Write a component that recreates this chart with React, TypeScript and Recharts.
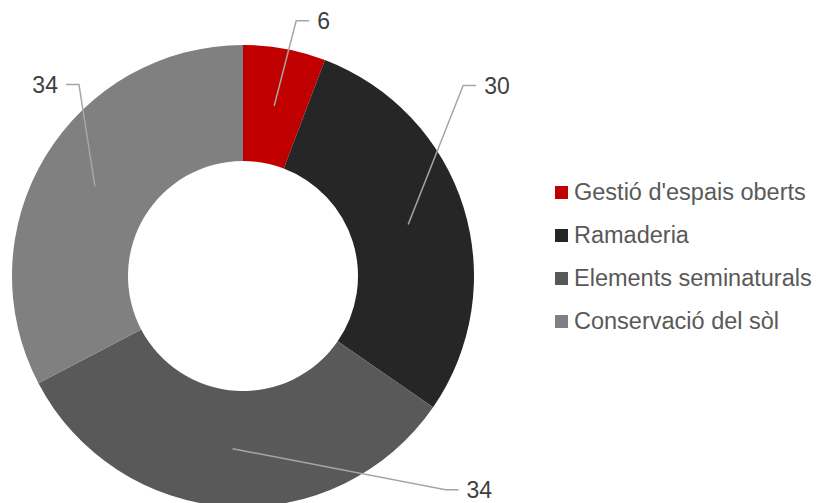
import React from 'react';
import { PieChart, Pie, Cell, Legend } from 'recharts';

const categories = ["Gestió d'espais oberts", 'Ramaderia', 'Elements seminaturals', 'Conservació del sòl'];
const values = [6, 30, 34, 34];
const colors = ['#C00000', '#262626', '#595959', '#808080'];

const data = categories.map((name, i) => ({ name, value: values[i] }));

// elbow offset from the slice mid point, and which side the text sits on
const labelLayout = [
  { dx: 22, dy: -85, side: 1 },
  { dx: 55, dy: -139, side: 1 },
  { dx: 213, dy: 41, side: 1 },
  { dx: -16, dy: -102, side: -1 },
];

const RADIAN = Math.PI / 180;

const renderLabel = (props: any) => {
  const { cx, cy, midAngle, innerRadius, outerRadius, index, value } = props;
  const r = (innerRadius + outerRadius) / 2;
  const sx = cx + r * Math.cos(-midAngle * RADIAN);
  const sy = cy + r * Math.sin(-midAngle * RADIAN);
  const l = labelLayout[index];
  const ex = sx + l.dx;
  const ey = sy + l.dy;
  const hx = ex + l.side * 13;
  return (
    <g>
      <polyline points={`${sx},${sy} ${ex},${ey} ${hx},${ey}`} fill="none" stroke="#A6A6A6" strokeWidth={1.5} />
      <text
        x={hx + l.side * 8}
        y={ey}
        dy="0.35em"
        textAnchor={l.side > 0 ? 'start' : 'end'}
        fill="#404040"
        fontSize={23}
        fontFamily="Liberation Sans, Arial, sans-serif"
      >
        {value}
      </text>
    </g>
  );
};

const renderLegend = () => (
  <div style={{ fontFamily: 'Liberation Sans, Arial, sans-serif', fontSize: 23.5, color: '#595959' }}>
    {categories.map((c, i) => (
      <div key={c} style={{ display: 'flex', alignItems: 'center', height: 43 }}>
        <span style={{ display: 'inline-block', width: 13, height: 13, background: colors[i], marginRight: 6 }} />
        <span>{c}</span>
      </div>
    ))}
  </div>
);

export default function App() {
  return (
    <div style={{ position: 'fixed', left: 0, top: 0, width: 819, height: 503, background: '#fff' }}>
      <PieChart width={819} height={503} margin={{ top: 0, right: 0, bottom: 0, left: 0 }}>
        <Pie
          data={data}
          dataKey="value"
          cx={243}
          cy={276}
          innerRadius={115}
          outerRadius={231}
          startAngle={90}
          endAngle={-270}
          stroke="none"
          label={renderLabel}
          labelLine={false}
          isAnimationActive={false}
        >
          {data.map((d, i) => (
            <Cell key={d.name} fill={colors[i]} />
          ))}
        </Pie>
        <Legend
          content={renderLegend}
          layout="vertical"
          wrapperStyle={{ position: 'absolute', left: 555, top: 171, width: 264 }}
        />
      </PieChart>
    </div>
  );
}
